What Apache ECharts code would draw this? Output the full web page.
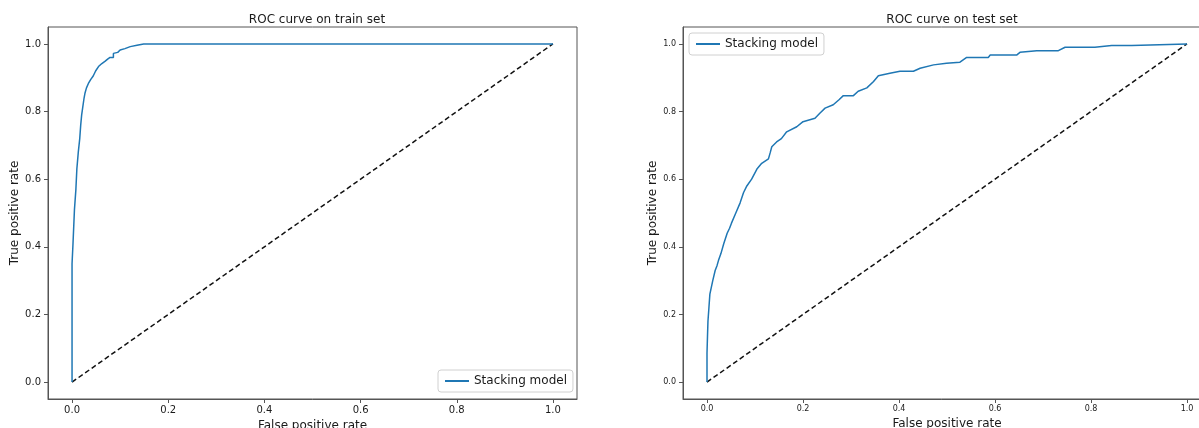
<!DOCTYPE html>
<html><head><meta charset="utf-8">
<script src="https://cdn.jsdelivr.net/npm/echarts@6/dist/echarts.min.js"></script>
<style>html,body{margin:0;padding:0;background:#fff}#c{width:1199px;height:428px}</style>
</head><body><div id="c"></div>
<script>
// ---- data ----
const trainFpr = [0,0,0.002,0.002,0.005,0.005,0.008,0.008,0.010,0.010,0.013,0.013,0.016,0.018,0.020,0.022,0.025,0.027,0.030,0.034,0.039,0.044,0.049,0.055,0.062,0.069,0.074,0.079,0.086,0.086,0.095,0.100,0.110,0.121,0.135,0.149,1.0];
const trainTpr = [0,0.35,0.35,0.41,0.41,0.51,0.51,0.57,0.57,0.63,0.63,0.68,0.72,0.76,0.79,0.81,0.84,0.855,0.87,0.883,0.895,0.905,0.92,0.933,0.942,0.949,0.955,0.96,0.96,0.972,0.975,0.982,0.986,0.992,0.996,1.0,1.0];
const testFpr = [0,0,0.001,0.001,0.002,0.002,0.004,0.004,0.006,0.009,0.012,0.017,0.021,0.024,0.029,0.035,0.042,0.047,0.051,0.060,0.069,0.076,0.083,0.093,0.104,0.114,0.128,0.132,0.135,0.145,0.155,0.166,0.187,0.200,0.225,0.235,0.246,0.263,0.275,0.284,0.305,0.315,0.333,0.347,0.357,0.381,0.402,0.430,0.444,0.472,0.499,0.527,0.541,0.586,0.590,0.645,0.652,0.687,0.732,0.746,0.808,0.843,0.885,0.888,1.0];
const testTpr = [0,0.085,0.085,0.134,0.134,0.18,0.18,0.22,0.26,0.28,0.30,0.33,0.345,0.36,0.38,0.41,0.44,0.455,0.47,0.50,0.53,0.56,0.58,0.60,0.63,0.647,0.66,0.68,0.696,0.71,0.72,0.74,0.755,0.77,0.78,0.795,0.81,0.82,0.835,0.847,0.847,0.86,0.87,0.889,0.906,0.913,0.919,0.919,0.928,0.938,0.943,0.946,0.96,0.96,0.967,0.967,0.975,0.98,0.98,0.99,0.99,0.995,0.995,1.0,1.0];
const chanceFpr = [0, 1];
const chanceTpr = [0, 1];
const tickValues = [0, 0.2, 0.4, 0.6, 0.8, 1.0];
const titles = ['ROC curve on train set', 'ROC curve on test set'];
const seriesName = 'Stacking model';
const xName = 'False positive rate';
const yName = 'True positive rate';

function zip(a, b) { return a.map((v, i) => [v, b[i]]); }

const FONT = 'DejaVu Sans';
const TXT = '#1a1a1a';
const SPINE = '#555';

function xAxis(gi, fs) {
  return {
    type: 'value', gridIndex: gi, min: -0.05, max: 1.05,
    axisLine: { show: true, onZero: false, lineStyle: { color: SPINE, width: 1 } },
    axisTick: { show: true, customValues: tickValues, length: 4, lineStyle: { color: SPINE } },
    axisLabel: { customValues: tickValues, formatter: v => v.toFixed(1), fontSize: fs, color: TXT, fontFamily: FONT, margin: 6 },
    splitLine: { show: false },
    name: xName, nameLocation: 'middle', nameGap: 17,
    nameTextStyle: { fontSize: 12, color: TXT, fontFamily: FONT }
  };
}
function yAxis(gi, fs) {
  return {
    type: 'value', gridIndex: gi, min: -0.05, max: 1.05,
    axisLine: { show: true, onZero: false, lineStyle: { color: SPINE, width: 1 } },
    axisTick: { show: true, customValues: tickValues, length: 4, lineStyle: { color: SPINE } },
    axisLabel: { customValues: tickValues, formatter: v => v.toFixed(1), fontSize: fs, color: TXT, fontFamily: FONT, margin: 7 },
    splitLine: { show: false },
    name: yName, nameLocation: 'middle', nameGap: 24, nameRotate: 90,
    nameTextStyle: { fontSize: 12, color: TXT, fontFamily: FONT }
  };
}
function legend(left, top) {
  return {
    data: [seriesName], left: left, top: top, orient: 'vertical',
    icon: 'rect', itemWidth: 24, itemHeight: 2,
    padding: [5, 6, 5, 7], borderColor: '#d0d0d0', borderWidth: 1, borderRadius: 3,
    backgroundColor: 'rgba(255,255,255,0.85)',
    textStyle: { fontSize: 12, color: TXT, fontFamily: FONT },
    selectedMode: false
  };
}
function roc(gi, fpr, tpr) {
  return {
    name: seriesName, type: 'line', xAxisIndex: gi, yAxisIndex: gi,
    data: zip(fpr, tpr), symbol: 'none', silent: true,
    lineStyle: { color: '#1f77b4', width: 1.5 }, itemStyle: { color: '#1f77b4' }, z: 3
  };
}
function chance(gi) {
  return {
    name: 'chance', type: 'line', xAxisIndex: gi, yAxisIndex: gi,
    data: zip(chanceFpr, chanceTpr), symbol: 'none', silent: true,
    lineStyle: { color: '#111', width: 1.5, type: [5, 3] }, z: 2
  };
}

const chart = echarts.init(document.getElementById('c'), null, { renderer: 'canvas' });
chart.setOption({
  animation: false,
  backgroundColor: '#fff',
  title: [
    { text: titles[0], left: 312, top: 9, textAlign: 'center', textStyle: { fontSize: 12, fontWeight: 'normal', color: TXT, fontFamily: FONT } },
    { text: titles[1], left: 947, top: 9, textAlign: 'center', textStyle: { fontSize: 12, fontWeight: 'normal', color: TXT, fontFamily: FONT } }
  ],
  grid: [
    { left: 48, top: 27, width: 529, height: 372, show: true, borderColor: SPINE, borderWidth: 1, backgroundColor: 'transparent', outerBoundsMode: 'none', containLabel: false },
    { left: 683, top: 27, width: 528, height: 372, show: true, borderColor: SPINE, borderWidth: 1, backgroundColor: 'transparent', outerBoundsMode: 'none', containLabel: false }
  ],
  xAxis: [xAxis(0, 10), xAxis(1, 8)],
  yAxis: [yAxis(0, 10), yAxis(1, 8)],
  legend: [legend(438, 370), legend(689, 33)],
  series: [chance(0), roc(0, trainFpr, trainTpr), chance(1), roc(1, testFpr, testTpr)]
});
</script>
</body></html>
